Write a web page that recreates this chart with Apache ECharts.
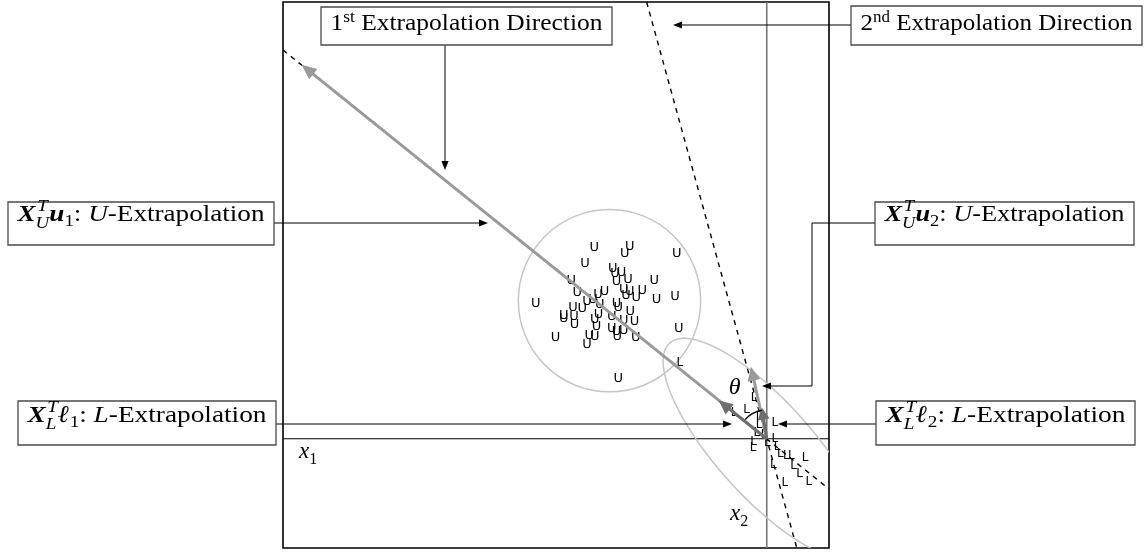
<!DOCTYPE html>
<html>
<head>
<meta charset="utf-8">
<script src="https://cdn.jsdelivr.net/npm/echarts@6/dist/echarts.min.js"></script>
<style>
  html, body { margin: 0; padding: 0; background: #fff; }
  #main { width: 1146px; height: 552px; }
</style>
</head>
<body>
<div id="main"></div>
<script>
// Feature space (x1, x2); the origin sits where the two axes cross.
const xRange = [-8.86, 1.14];
const yRange = [-2, 8];

// U samples
const uPoints = [
  [-3.16, 3.51], [-2.60, 3.40], [-2.51, 3.52], [-1.65, 3.39], [-3.33, 3.21],
  [-2.82, 3.11], [-2.78, 3.03], [-2.66, 3.05], [-3.58, 2.90], [-2.75, 2.88],
  [-2.54, 2.91], [-2.06, 2.89], [-3.47, 2.68], [-3.09, 2.64], [-2.97, 2.70],
  [-2.62, 2.73], [-2.51, 2.70], [-2.58, 2.62], [-2.39, 2.58], [-2.28, 2.71],
  [-2.02, 2.55], [-1.68, 2.60], [-4.23, 2.47], [-3.55, 2.41], [-3.38, 2.38],
  [-3.29, 2.51], [-3.18, 2.55], [-3.06, 2.45], [-2.75, 2.47], [-2.72, 2.41],
  [-2.50, 2.33], [-3.72, 2.25], [-3.72, 2.21], [-3.53, 2.23], [-3.52, 2.09],
  [-3.08, 2.27], [-3.15, 2.18], [-2.84, 2.23], [-2.62, 2.17], [-2.42, 2.15],
  [-3.12, 2.05], [-2.84, 2.01], [-2.75, 1.97], [-2.62, 1.98], [-2.40, 1.86],
  [-3.25, 1.89], [-3.15, 1.87], [-2.74, 1.87], [-3.29, 1.72], [-3.87, 1.86],
  [-1.61, 2.01], [-2.72, 1.10]
];

// L samples
const lPoints = [
  [-1.59, 1.39], [-0.23, 0.75], [-0.60, 0.47], [-0.37, 0.53], [-0.14, 0.40],
  [-0.14, 0.26], [0.15, 0.29], [-0.18, 0.10], [-0.05, 0.07], [-0.24, -0.05],
  [-0.25, -0.17], [0.01, -0.08], [0.15, -0.01], [0.19, -0.15], [0.25, -0.27],
  [0.36, -0.31], [0.45, -0.32], [0.70, -0.35], [0.12, -0.48], [0.49, -0.49],
  [0.60, -0.64], [0.77, -0.78], [0.33, -0.81]
];

// Coordinate axes
const axisX1 = [[-8.86, 0], [1.14, 0]];
const axisX2 = [[0, -2], [0, 8]];

// Extrapolation directions (dashed)
const direction1 = [[-8.86, 7.12], [1.14, -0.92]];
const direction2 = [[-2.2, 8], [0.55, -2]];

// Extrapolation vectors: [x0, y0, x1, y1]
const arrowU1 = [0, 0, -8.52, 6.85];
const arrowU2 = [0, 0, -0.29, 1.32];
const arrowL1 = [0, 0, -0.88, 0.70];
const arrowL2 = [0, 0, -0.09, 0.57];

// Spread of U: [cx, cy, r]
const circleU = [-2.88, 2.53, 1.67];
// Spread of L: [cx, cy, semi-major, semi-minor, angle in degrees]
const ellipseL = [-0.04, -0.18, 2.60, 0.88, -48];
// Angle between the directions: [cx, cy, r, from deg, to deg]
const thetaArc = [0, 0, 0.53, 138, 100];
const thetaLabelAt = [-0.59, 0.93];

const SERIF = '"Liberation Serif", "DejaVu Serif", serif';
const measureCtx = document.createElement('canvas').getContext('2d');
function fontOf(style, px) {
  return ((style ? style + ' ' : '') + px + 'px ' + SERIF);
}
function textWidth(t, style, px) {
  measureCtx.font = fontOf(style, px);
  return measureCtx.measureText(t).width;
}

// Lays out a run of text pieces (with sub/superscripts) on one baseline.
function mathText(pieces, size, x0, baseline, fitWidth) {
  let cursor = 0;
  const items = [];
  pieces.forEach(p => {
    const stack = p.stack || [p];
    let adv = 0;
    stack.forEach(q => {
      const px = size * (q.s || 1);
      const dx = (q.dx || 0) * size;
      const w = textWidth(q.t, q.f || '', px);
      items.push({ t: q.t, font: fontOf(q.f || '', px), px: px, x: cursor + dx, dy: (q.dy || 0) * size });
      adv = Math.max(adv, w + dx);
    });
    cursor += adv;
  });
  const scale = fitWidth ? fitWidth / cursor : 1;
  return items.map(it => ({
    type: 'text',
    x: x0 + it.x * scale,
    y: baseline + it.dy - 0.34 * it.px,
    scaleX: scale,
    silent: true,
    z: 20,
    style: { text: it.t, font: it.font, fill: '#000', textAlign: 'left', verticalAlign: 'middle', textVerticalAlign: 'middle' }
  }));
}

function arrowShapes(a, b, color, width, len, half, z) {
  const dx = b[0] - a[0], dy = b[1] - a[1];
  const d = Math.hypot(dx, dy) || 1;
  const ux = dx / d, uy = dy / d;
  const bx = b[0] - ux * len, by = b[1] - uy * len;
  return [
    { type: 'line', z: z, silent: true, shape: { x1: a[0], y1: a[1], x2: bx + ux, y2: by + uy }, style: { stroke: color, lineWidth: width } },
    { type: 'polygon', z: z, silent: true, shape: { points: [[b[0], b[1]], [bx - uy * half, by + ux * half], [bx + uy * half, by - ux * half]] }, style: { fill: color } }
  ];
}

function lineSeries(points, color, width, dashed, z) {
  return {
    type: 'line', data: points, symbol: 'none', silent: true, z: z,
    lineStyle: { color: color, width: width, type: dashed ? [5, 5] : 'solid' }
  };
}

function arrowSeries(seg, color, width, len, half, z) {
  return {
    type: 'custom', silent: true, z: z, data: [seg],
    renderItem: (params, api) => {
      const a = api.coord([api.value(0), api.value(1)]);
      const b = api.coord([api.value(2), api.value(3)]);
      return { type: 'group', children: arrowShapes(a, b, color, width, len, half, z) };
    }
  };
}

function clipOf(params) {
  const c = params.coordSys;
  return { type: 'rect', shape: { x: c.x, y: c.y, width: c.width, height: c.height } };
}

const circleSeries = {
  type: 'custom', silent: true, z: 2, data: [circleU],
  renderItem: (params, api) => {
    const c = api.coord([api.value(0), api.value(1)]);
    const r = api.size([api.value(2), 0])[0];
    return { type: 'circle', shape: { cx: c[0], cy: c[1], r: r }, style: { fill: 'none', stroke: '#c6c6c6', lineWidth: 1.5 } };
  }
};

const ellipseSeries = {
  type: 'custom', silent: true, z: 2, data: [ellipseL],
  renderItem: (params, api) => {
    const cx = api.value(0), cy = api.value(1), a = api.value(2), b = api.value(3);
    const phi = api.value(4) * Math.PI / 180;
    const pts = [];
    for (let i = 0; i < 180; i++) {
      const t = i / 180 * Math.PI * 2;
      const x = cx + a * Math.cos(t) * Math.cos(phi) - b * Math.sin(t) * Math.sin(phi);
      const y = cy + a * Math.cos(t) * Math.sin(phi) + b * Math.sin(t) * Math.cos(phi);
      pts.push(api.coord([x, y]));
    }
    return {
      type: 'group', clipPath: clipOf(params),
      children: [{ type: 'polygon', shape: { points: pts }, style: { fill: 'none', stroke: '#c6c6c6', lineWidth: 1.5 } }]
    };
  }
};

const arcSeries = {
  type: 'custom', silent: true, z: 7, data: [thetaArc],
  renderItem: (params, api) => {
    const c = api.coord([api.value(0), api.value(1)]);
    const r = api.size([api.value(2), 0])[0];
    const lab = api.coord(thetaLabelAt);
    return {
      type: 'group', children: [
        { type: 'arc', shape: { cx: c[0], cy: c[1], r: r, startAngle: -api.value(3) * Math.PI / 180, endAngle: -api.value(4) * Math.PI / 180, clockwise: true },
          style: { stroke: '#000', lineWidth: 1.4, fill: 'none' } },
        { type: 'text', x: lab[0], y: lab[1], style: { text: 'θ', font: 'italic 24px ' + SERIF, fill: '#000', align: 'center', verticalAlign: 'middle' } }
      ]
    };
  }
};

// Each sample is drawn as its class letter centred on the point.
function letterSeries(points, letter, size, z) {
  return {
    type: 'custom', silent: true, z: z, data: points,
    renderItem: (params, api) => {
      const p = api.coord([api.value(0), api.value(1)]);
      return {
        type: 'text', x: p[0], y: p[1],
        style: { text: letter, font: size + 'px "DejaVu Sans"', fill: '#000', align: 'center', verticalAlign: 'middle' }
      };
    }
  };
}

// Callout boxes around the frame
const SIZE = 24;
const callouts = [
  { box: [321, 7, 291, 38], base: 32, pieces: [{ t: '1' }, { t: 'st', s: 0.68, dy: -0.36 }, { t: ' Extrapolation Direction' }] },
  { box: [851, 6, 291, 39], base: 32, pieces: [{ t: '2' }, { t: 'nd', s: 0.68, dy: -0.36 }, { t: ' Extrapolation Direction' }] },
  { box: [8, 202, 266, 43], base: 223, pieces: [
    { t: 'X', f: 'italic bold' },
    { stack: [{ t: 'T', f: 'italic', s: 0.7, dy: -0.45, dx: 0.06 }, { t: 'U', f: 'italic', s: 0.7, dy: 0.27 }] },
    { t: 'u', f: 'italic bold' }, { t: '1', s: 0.7, dy: 0.2 }, { t: ': ' }, { t: 'U', f: 'italic' }, { t: '-Extrapolation' }] },
  { box: [875, 202, 259, 43], base: 223, pieces: [
    { t: 'X', f: 'italic bold' },
    { stack: [{ t: 'T', f: 'italic', s: 0.7, dy: -0.45, dx: 0.06 }, { t: 'U', f: 'italic', s: 0.7, dy: 0.27 }] },
    { t: 'u', f: 'italic bold' }, { t: '2', s: 0.7, dy: 0.2 }, { t: ': ' }, { t: 'U', f: 'italic' }, { t: '-Extrapolation' }] },
  { box: [18, 401, 258, 44], base: 424, pieces: [
    { t: 'X', f: 'italic bold' },
    { stack: [{ t: 'T', f: 'italic', s: 0.7, dy: -0.45, dx: 0.06 }, { t: 'L', f: 'italic', s: 0.7, dy: 0.27 }] },
    { t: 'ℓ', f: 'italic bold' }, { t: '1', s: 0.7, dy: 0.2 }, { t: ': ' }, { t: 'L', f: 'italic' }, { t: '-Extrapolation' }] },
  { box: [876, 401, 259, 44], base: 424, pieces: [
    { t: 'X', f: 'italic bold' },
    { stack: [{ t: 'T', f: 'italic', s: 0.7, dy: -0.45, dx: 0.06 }, { t: 'L', f: 'italic', s: 0.7, dy: 0.27 }] },
    { t: 'ℓ', f: 'italic bold' }, { t: '2', s: 0.7, dy: 0.2 }, { t: ': ' }, { t: 'L', f: 'italic' }, { t: '-Extrapolation' }] }
];

// Leader lines from the boxes: polyline points, last point is the arrow tip
const leaders = [
  [[445, 45], [445, 170]],
  [[851, 25], [673, 25]],
  [[274, 223], [488, 223]],
  [[875, 223], [812, 223], [812, 386], [762, 386]],
  [[276, 424], [732, 424]],
  [[876, 424], [778, 424]]
];

const graphics = [];
callouts.forEach(c => {
  const [x, y, w, h] = c.box;
  graphics.push({ type: 'rect', z: 20, silent: true, shape: { x: x, y: y, width: w, height: h },
    style: { fill: '#fff', stroke: '#4a4a4a', lineWidth: 1.3 } });
  const pad = 9.5;
  mathText(c.pieces, SIZE, x + pad, c.base, w - 2 * pad).forEach(e => graphics.push(e));
});
leaders.forEach(pts => {
  if (pts.length > 2) {
    graphics.push({ type: 'polyline', z: 19, silent: true, shape: { points: pts.slice(0, -1) }, style: { stroke: '#000', lineWidth: 1, fill: 'none' } });
  }
  arrowShapes(pts[pts.length - 2], pts[pts.length - 1], '#000', 1, 9, 3.6, 19).forEach(e => graphics.push(e));
});
// Axis names
mathText([{ t: 'x', f: 'italic' }, { t: '1', s: 0.7, dy: 0.22 }], 23, 299, 460).forEach(e => graphics.push(e));
mathText([{ t: 'x', f: 'italic' }, { t: '2', s: 0.7, dy: 0.22 }], 23, 730, 522).forEach(e => graphics.push(e));

const chart = echarts.init(document.getElementById('main'));
chart.setOption({
  animation: false,
  grid: { left: 283, top: 2, width: 546, height: 546, show: true, borderColor: '#000', borderWidth: 1.6, backgroundColor: 'transparent' },
  xAxis: { type: 'value', min: xRange[0], max: xRange[1], show: false },
  yAxis: { type: 'value', min: yRange[0], max: yRange[1], show: false },
  series: [
    lineSeries(axisX1, '#000', 1.1, false, 1),
    lineSeries(axisX2, '#777', 1.6, false, 1),
    lineSeries(direction1, '#000', 1.4, true, 1),
    lineSeries(direction2, '#000', 1.4, true, 1),
    circleSeries,
    ellipseSeries,
    letterSeries(uPoints, 'U', 13, 3),
    letterSeries(lPoints, 'L', 12, 3),
    arrowSeries(arrowU1, '#9a9a9a', 3, 15, 6.5, 5),
    arrowSeries(arrowU2, '#9a9a9a', 3, 14, 6.5, 5),
    arrowSeries(arrowL1, '#6e6e6e', 3, 14, 6.5, 6),
    arrowSeries(arrowL2, '#6e6e6e', 3, 12, 6, 6),
    arcSeries
  ],
  graphic: { elements: graphics }
});
</script>
</body>
</html>
